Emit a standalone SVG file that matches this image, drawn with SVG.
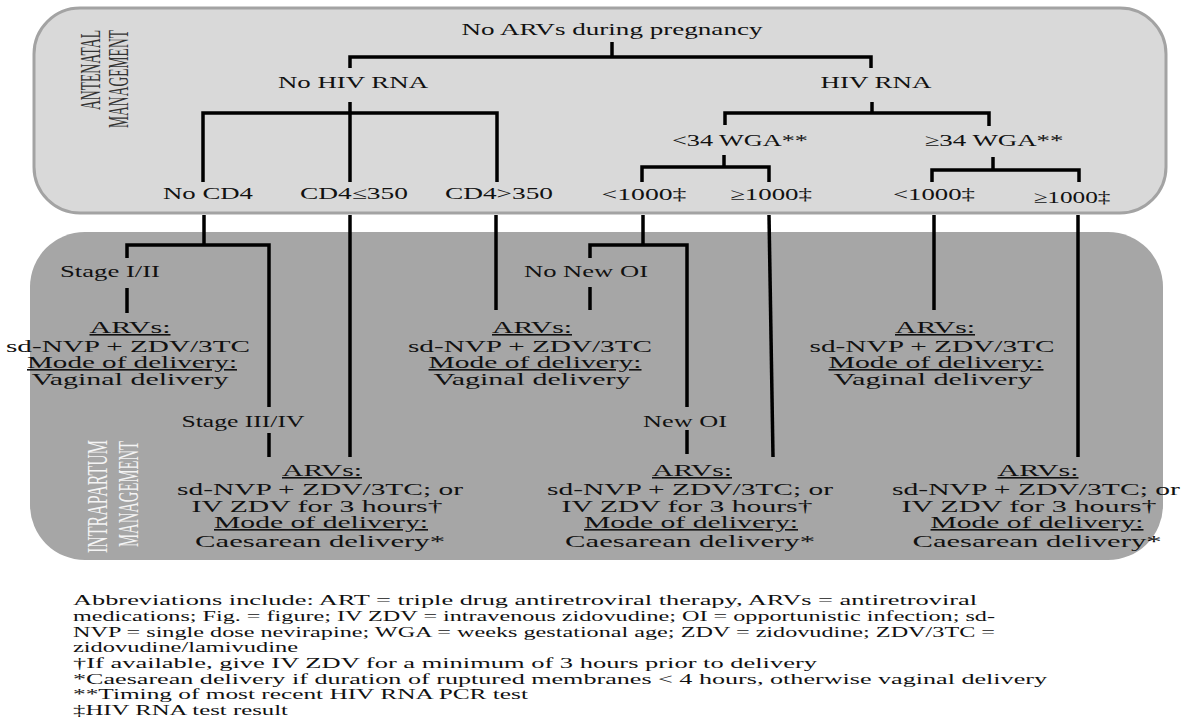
<svg xmlns="http://www.w3.org/2000/svg" width="1192" height="720" viewBox="0 0 1192 720">
<style>
text{font-family:"Liberation Serif","DejaVu Serif",serif}
.t{font-size:17px;fill:#111;text-anchor:middle}
.b{font-size:16px;fill:#111;text-anchor:middle}
.u{text-decoration:underline}
.fn{font-size:14px;fill:#111;text-anchor:start}
.side{font-size:29px;text-anchor:start}
.c{fill:none;stroke:#000;stroke-width:3.5;stroke-linejoin:miter;stroke-linecap:butt}
</style>
<rect x="0" y="0" width="1192" height="720" fill="#ffffff"/>
<g id="antenatal-panel">
<rect x="34" y="8" width="1132" height="205" rx="46" ry="46" fill="#d9d9d9" stroke="#a3a3a3" stroke-width="3"/>
<text class="side" fill="#333" transform="translate(100,110) rotate(-90)" textLength="80" lengthAdjust="spacingAndGlyphs">ANTENATAL</text>
<text class="side" fill="#333" transform="translate(128,128) rotate(-90)" textLength="98" lengthAdjust="spacingAndGlyphs">MANAGEMENT</text>
</g>
<g id="intrapartum-panel">
<rect x="30" y="232" width="1133" height="328" rx="55" ry="55" fill="#a6a6a6"/>
<text class="side" fill="#f4f4f4" transform="translate(107,553) rotate(-90)" textLength="113" lengthAdjust="spacingAndGlyphs">INTRAPARTUM</text>
<text class="side" fill="#f4f4f4" transform="translate(138,547) rotate(-90)" textLength="106" lengthAdjust="spacingAndGlyphs">MANAGEMENT</text>
</g>
<g id="connectors">
<path class="c" d="M612,42 V57"/>
<path class="c" d="M350,68 V57 H871 V68"/>
<path class="c" d="M350,102 V182"/>
<path class="c" d="M203,182 V113 H497 V182"/>
<path class="c" d="M872,102 V113"/>
<path class="c" d="M725,125 V113 H989 V126"/>
<path class="c" d="M724,155 V167"/>
<path class="c" d="M642,182 V167 H769 V182"/>
<path class="c" d="M993,157 V170"/>
<path class="c" d="M932,182 V170 H1079 V182"/>
<path class="c" d="M204,215 V245"/>
<path class="c" d="M127,258 V245 H269 V407"/>
<path class="c" d="M127,288 V313"/>
<path class="c" d="M269,433 V457"/>
<path class="c" d="M350,215 V457"/>
<path class="c" d="M496,215 V310"/>
<path class="c" d="M643,215 V245"/>
<path class="c" d="M590,258 V245 H687 V407"/>
<path class="c" d="M590,287 V310"/>
<path class="c" d="M687,430 V454"/>
<path class="c" d="M769,215 L773,457"/>
<path class="c" d="M934,215 V310"/>
<path class="c" d="M1078,215 V457"/>
</g>
<g id="n-root"><text class="t" x="612" y="35" textLength="301" lengthAdjust="spacingAndGlyphs">No ARVs during pregnancy</text></g>
<g id="n-nohivrna"><text class="t" x="353" y="88" textLength="150" lengthAdjust="spacingAndGlyphs">No HIV RNA</text></g>
<g id="n-hivrna"><text class="t" x="876" y="88" textLength="111" lengthAdjust="spacingAndGlyphs">HIV RNA</text></g>
<g id="n-lt34"><text class="t" x="740" y="146" textLength="136" lengthAdjust="spacingAndGlyphs">&lt;34 WGA**</text></g>
<g id="n-ge34"><text class="t" x="994" y="146" textLength="139" lengthAdjust="spacingAndGlyphs">≥34 WGA**</text></g>
<g id="n-nocd4"><text class="t" x="208" y="199" textLength="90" lengthAdjust="spacingAndGlyphs">No CD4</text></g>
<g id="n-cd4le"><text class="t" x="354" y="199" textLength="108" lengthAdjust="spacingAndGlyphs">CD4≤350</text></g>
<g id="n-cd4gt"><text class="t" x="499" y="199" textLength="108" lengthAdjust="spacingAndGlyphs">CD4&gt;350</text></g>
<g id="n-lt1000a"><text class="t" x="644" y="200" textLength="85" lengthAdjust="spacingAndGlyphs">&lt;1000‡</text></g>
<g id="n-ge1000a"><text class="t" x="771" y="200" textLength="82" lengthAdjust="spacingAndGlyphs">≥1000‡</text></g>
<g id="n-lt1000b"><text class="t" x="934" y="200" textLength="82" lengthAdjust="spacingAndGlyphs">&lt;1000‡</text></g>
<g id="n-ge1000b"><text class="t" x="1072" y="203" textLength="77" lengthAdjust="spacingAndGlyphs">≥1000‡</text></g>
<g id="n-stage12"><text class="t" x="110" y="277" textLength="100" lengthAdjust="spacingAndGlyphs">Stage I/II</text></g>
<g id="n-stage34"><text class="t" x="243" y="427" textLength="123" lengthAdjust="spacingAndGlyphs">Stage III/IV</text></g>
<g id="n-nonewoi"><text class="t" x="586" y="277" textLength="124" lengthAdjust="spacingAndGlyphs">No New OI</text></g>
<g id="n-newoi"><text class="t" x="685" y="427" textLength="84" lengthAdjust="spacingAndGlyphs">New OI</text></g>
<g id="n-block1">
<text class="b u" x="130" y="333" textLength="81" lengthAdjust="spacingAndGlyphs">ARVs:</text>
<text class="b" x="128" y="352" textLength="244" lengthAdjust="spacingAndGlyphs">sd-NVP + ZDV/3TC</text>
<text class="b u" x="132" y="368" textLength="210" lengthAdjust="spacingAndGlyphs">Mode of delivery:</text>
<text class="b" x="130" y="385" textLength="197" lengthAdjust="spacingAndGlyphs">Vaginal delivery</text>
</g>
<g id="n-block2">
<text class="b u" x="532" y="333" textLength="80" lengthAdjust="spacingAndGlyphs">ARVs:</text>
<text class="b" x="530" y="352" textLength="244" lengthAdjust="spacingAndGlyphs">sd-NVP + ZDV/3TC</text>
<text class="b u" x="535" y="368" textLength="213" lengthAdjust="spacingAndGlyphs">Mode of delivery:</text>
<text class="b" x="532" y="385" textLength="197" lengthAdjust="spacingAndGlyphs">Vaginal delivery</text>
</g>
<g id="n-block3">
<text class="b u" x="935" y="333" textLength="80" lengthAdjust="spacingAndGlyphs">ARVs:</text>
<text class="b" x="932" y="352" textLength="245" lengthAdjust="spacingAndGlyphs">sd-NVP + ZDV/3TC</text>
<text class="b u" x="936" y="368" textLength="215" lengthAdjust="spacingAndGlyphs">Mode of delivery:</text>
<text class="b" x="933" y="385" textLength="199" lengthAdjust="spacingAndGlyphs">Vaginal delivery</text>
</g>
<g id="n-block4">
<text class="b u" x="322" y="476" textLength="80" lengthAdjust="spacingAndGlyphs">ARVs:</text>
<text class="b" x="320" y="495" textLength="286" lengthAdjust="spacingAndGlyphs">sd-NVP + ZDV/3TC; or</text>
<text class="b" x="317" y="512" textLength="251" lengthAdjust="spacingAndGlyphs">IV ZDV  for 3 hours†</text>
<text class="b u" x="321" y="528" textLength="214" lengthAdjust="spacingAndGlyphs">Mode of delivery:</text>
<text class="b" x="320" y="547" textLength="250" lengthAdjust="spacingAndGlyphs">Caesarean delivery*</text>
</g>
<g id="n-block5">
<text class="b u" x="692" y="476" textLength="80" lengthAdjust="spacingAndGlyphs">ARVs:</text>
<text class="b" x="690" y="495" textLength="286" lengthAdjust="spacingAndGlyphs">sd-NVP + ZDV/3TC; or</text>
<text class="b" x="687" y="512" textLength="251" lengthAdjust="spacingAndGlyphs">IV ZDV  for 3 hours†</text>
<text class="b u" x="691" y="528" textLength="214" lengthAdjust="spacingAndGlyphs">Mode of delivery:</text>
<text class="b" x="690" y="547" textLength="250" lengthAdjust="spacingAndGlyphs">Caesarean delivery*</text>
</g>
<g id="n-block6">
<text class="b u" x="1038" y="476" textLength="81" lengthAdjust="spacingAndGlyphs">ARVs:</text>
<text class="b" x="1036" y="495" textLength="288" lengthAdjust="spacingAndGlyphs">sd-NVP + ZDV/3TC; or</text>
<text class="b" x="1029" y="512" textLength="255" lengthAdjust="spacingAndGlyphs">IV ZDV  for 3 hours†</text>
<text class="b u" x="1037" y="528" textLength="213" lengthAdjust="spacingAndGlyphs">Mode of delivery:</text>
<text class="b" x="1037" y="547" textLength="249" lengthAdjust="spacingAndGlyphs">Caesarean delivery*</text>
</g>
<g id="footnotes">
<text class="fn" x="73" y="605" textLength="904" lengthAdjust="spacingAndGlyphs">Abbreviations include:  ART = triple  drug antiretroviral  therapy, ARVs = antiretroviral</text>
<text class="fn" x="73" y="621" textLength="922" lengthAdjust="spacingAndGlyphs">medications; Fig. = figure; IV  ZDV = intravenous zidovudine; OI = opportunistic  infection; sd-</text>
<text class="fn" x="73" y="637" textLength="922" lengthAdjust="spacingAndGlyphs">NVP = single dose nevirapine; WGA = weeks gestational age; ZDV = zidovudine; ZDV/3TC =</text>
<text class="fn" x="73" y="652" textLength="225" lengthAdjust="spacingAndGlyphs">zidovudine/lamivudine</text>
<text class="fn" x="73" y="668" textLength="744" lengthAdjust="spacingAndGlyphs">†If available, give IV ZDV for a minimum of 3 hours prior to delivery</text>
<text class="fn" x="73" y="684" textLength="974" lengthAdjust="spacingAndGlyphs">*Caesarean delivery if duration of ruptured membranes &lt; 4 hours, otherwise vaginal delivery</text>
<text class="fn" x="73" y="699" textLength="455" lengthAdjust="spacingAndGlyphs">**Timing of most recent HIV RNA PCR test</text>
<text class="fn" x="73" y="715" textLength="215" lengthAdjust="spacingAndGlyphs">‡HIV RNA test result</text>
</g>
</svg>
